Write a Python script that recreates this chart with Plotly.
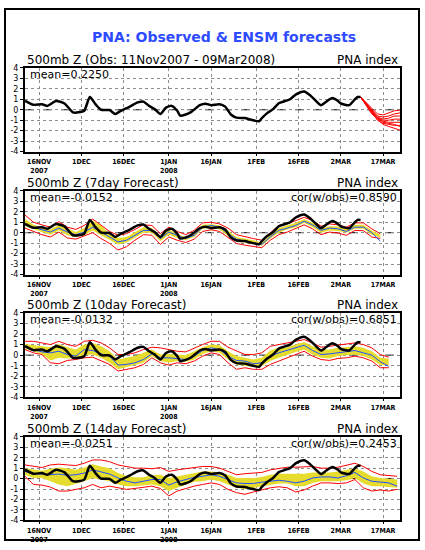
import plotly.graph_objects as go

# ---------------- data ----------------
obs_dates = ["2007-11-11","2007-11-14","2007-11-17","2007-11-19","2007-11-22","2007-11-25","2007-11-28","2007-11-30",
             "2007-12-02","2007-12-04","2007-12-06","2007-12-08","2007-12-11","2007-12-13","2007-12-15","2007-12-18",
             "2007-12-21","2007-12-23","2007-12-25","2007-12-27","2007-12-29","2007-12-31","2008-01-02","2008-01-04",
             "2008-01-05","2008-01-07","2008-01-09","2008-01-12","2008-01-14","2008-01-16","2008-01-19","2008-01-21",
             "2008-01-23","2008-01-25","2008-01-28","2008-01-30","2008-02-02","2008-02-03","2008-02-05","2008-02-07",
             "2008-02-09","2008-02-11","2008-02-13","2008-02-15","2008-02-18","2008-02-20","2008-02-22","2008-02-24",
             "2008-02-26","2008-02-28","2008-03-01","2008-03-02","2008-03-05","2008-03-07","2008-03-08","2008-03-09"]
obs_vals = [0.85,0.47,0.53,0.37,0.84,0.6,-0.25,-0.25,-0.1,1.22,0.53,0.0,-0.03,-0.4,-0.1,0.28,0.7,0.78,0.37,0.06,
            -0.4,0.2,0.37,-0.1,-0.56,-0.45,-0.2,0.44,0.58,0.44,0.53,0.3,-0.45,-0.75,-0.8,-0.94,-1.1,-0.8,-0.3,0.06,
            0.62,0.81,1.0,1.45,1.75,1.4,0.9,0.44,0.8,1.12,0.84,0.6,0.44,1.0,1.22,1.22]

member_dates = ["2008-03-09","2008-03-11","2008-03-13","2008-03-15","2008-03-17","2008-03-19","2008-03-21","2008-03-23"]
member_vals = [
    [1.22, 0.70, 0.10, -0.40, -0.50, -0.30, -0.10, -0.05],
    [1.22, 0.60, 0.00, -0.60, -0.70, -0.60, -0.40, -0.30],
    [1.22, 0.65, -0.10, -0.70, -0.90, -0.80, -0.60, -0.60],
    [1.22, 0.55, -0.20, -0.80, -1.00, -1.00, -0.90, -0.90],
    [1.22, 0.50, -0.30, -0.90, -1.10, -1.20, -1.20, -1.20],
    [1.22, 0.45, -0.35, -1.00, -1.30, -1.40, -1.50, -1.50],
    [1.22, 0.40, -0.40, -0.90, -1.40, -1.60, -1.80, -1.95],
    [1.22, 0.50, -0.25, -0.75, -1.20, -1.30, -1.40, -1.60],
]

fc_dates = ["2007-11-11","2007-11-14","2007-11-17","2007-11-20","2007-11-23","2007-11-26","2007-11-29","2007-12-02",
            "2007-12-05","2007-12-08","2007-12-11","2007-12-14","2007-12-17","2007-12-20","2007-12-23","2007-12-26",
            "2007-12-29","2008-01-01","2008-01-04","2008-01-07","2008-01-10","2008-01-13","2008-01-16","2008-01-19",
            "2008-01-22","2008-01-25","2008-01-28","2008-01-31","2008-02-03","2008-02-06","2008-02-09","2008-02-12",
            "2008-02-15","2008-02-18","2008-02-21","2008-02-24","2008-02-27","2008-03-01","2008-03-04","2008-03-07",
            "2008-03-10","2008-03-13","2008-03-16","2008-03-19","2008-03-22"]

# 7-day forecast
d7_red_up = [1.69,1.0,0.75,0.53,1.06,0.53,0.31,0.69,1.31,0.75, 0.12,-0.25,-0.09,0.31,0.75,0.69,-0.09,0.53,0.12,-0.19,
             0.22,0.94,1.0,0.84,0.44,-0.19,-0.41,-0.56,-0.72,0.0, 0.69,0.84,1.16,1.47,1.16,0.62,0.84,0.75,0.53,0.94,
             0.94,0.37,-0.1]
d7_yel_up = [1.31,0.75,0.53,0.31,0.75,0.37,0.06,0.44,1.16,0.69, -0.09,-0.5,-0.41,0.06,0.53,0.44,-0.31,0.31,-0.09,-0.41,
             0.0,0.75,0.84,0.69,0.22,-0.41,-0.56,-0.72,-0.94,-0.19, 0.44,0.69,0.94,1.31,0.94,0.44,0.62,0.59,0.37,0.75,
             0.75,0.22,-0.2]
d7_mean = [0.75,0.53,0.28,0.06,0.44,0.06,-0.19,0.06,0.53,0.06, -0.41,-0.88,-0.72,-0.25,0.22,0.22,-0.56,0.06,-0.25,-0.56,
           -0.25,0.53,0.69,0.53,-0.09,-0.62,-0.81,-0.94,-1.12,-0.41, 0.22,0.44,0.69,1.09,0.75,0.22,0.44,0.37,0.12,0.53,
           0.53,0.0,-0.8]
d7_yel_lo = [0.62,0.31,0.06,-0.19,0.22,-0.25,-0.41,-0.25,0.22,-0.25, -0.72,-1.12,-0.94,-0.5,0.0,0.0,-0.81,-0.19,-0.5,-0.72,
             -0.41,0.37,0.44,0.31,-0.31,-0.81,-0.94,-1.12,-1.25,-0.56, 0.0,0.31,0.53,0.94,0.53,0.0,0.22,0.16,0.0,0.37,
             0.37,-0.19,-0.45]
d7_red_lo = [0.44,0.12,-0.19,-0.41,0.06,-0.5,-0.62,-0.31,0.0,-0.56, -1.03,-1.66,-1.34,-0.72,-0.19,-0.25,-1.12,-0.41,-0.72,-0.94,
             -0.62,0.12,0.28,0.12,-0.5,-1.03,-1.19,-1.28,-1.44,-0.72, -0.19,0.06,0.37,0.75,0.37,-0.19,0.06,-0.03,-0.25,0.22,
             0.19,-0.41,-0.55]

# 10-day forecast
d10_red_up = [1.31,1.31,1.16,1.0,1.31,1.0,0.84,1.31,1.41,1.16, 0.69,0.06,0.06,0.22,0.53,0.75,0.69,0.53,0.37,0.31,
              0.69,1.0,1.31,1.31,0.75,0.37,0.06,0.06,0.22,0.84, 1.0,1.16,1.31,1.47,1.16,0.75,0.84,0.94,1.0,1.16,
              1.0,0.69,0.06,-0.19]
d10_yel_up = [1.06,0.94,0.84,0.75,1.06,0.75,0.53,1.0,1.16,0.84, 0.37,-0.41,-0.25,-0.09,0.22,0.53,0.06,0.12,0.06,0.0,
              0.37,0.75,1.0,0.94,0.37,-0.09,-0.25,-0.41,-0.25,0.44, 0.69,0.75,1.0,1.25,0.84,0.53,0.53,0.69,0.75,0.84,
              0.69,0.37,-0.25,-0.31]
d10_mean = [0.75,0.53,0.31,0.22,0.37,0.06,-0.09,0.53,0.44,0.12, -0.09,-0.94,-0.88,-0.72,-0.41,0.12,-0.25,-0.25,-0.31,-0.41,
            -0.09,0.44,0.69,0.53,-0.09,-0.5,-0.56,-0.81,-0.72,-0.09, 0.22,0.44,0.69,0.94,0.44,0.06,0.12,0.22,0.37,0.44,
            0.22,0.0,-0.62,-1.06]
d10_yel_lo = [0.62,0.37,0.12,-0.5,-0.25,-0.31,-0.25,0.0,0.06,-0.25, -0.72,-1.34,-1.12,-0.94,-0.72,-0.09,-0.56,-0.72,-0.56,-0.62,
              -0.41,0.12,0.37,0.22,-0.41,-0.88,-1.03,-1.12,-1.03,-0.56, -0.25,0.06,0.31,0.53,0.06,-0.25,-0.31,-0.09,0.0,0.06,
              -0.09,-0.41,-0.94,-0.94]
d10_red_lo = [0.53,0.22,0.06,-0.72,-0.81,-0.5,-0.41,-0.25,-0.19,-0.56, -0.88,-1.5,-1.34,-1.19,-0.88,-0.25,-0.72,-0.94,-0.72,-0.81,
              -0.56,-0.09,0.22,0.06,-0.72,-1.34,-1.19,-1.34,-1.34,-0.88, -0.56,-0.25,0.06,0.37,-0.09,-0.41,-0.5,-0.31,-0.25,-0.09,
              -0.25,-0.56,-1.19,-1.19]

# 14-day forecast
d14_red_up = [1.31,1.16,1.06,1.31,1.38,1.31,1.25,1.47,1.78,1.78, 1.62,1.31,1.16,1.0,1.0,0.94,1.06,0.69,0.84,0.94,
              1.06,1.16,1.16,1.0,0.69,0.37,0.47,0.53,0.59,0.84, 1.0,1.09,1.09,1.16,1.16,1.0,1.0,1.09,1.31,1.47,
              1.16,0.69,0.37,0.28,0.22]
d14_yel_up = [1.0,0.84,0.75,0.94,1.06,1.0,0.84,1.06,1.38,1.16, 1.0,0.53,0.22,0.12,0.12,0.31,0.37,0.06,0.22,0.37,
              0.53,0.69,0.69,0.59,0.37,0.06,0.06,0.06,0.16,0.37, 0.47,0.47,0.47,0.47,0.59,0.59,0.59,0.69,0.84,1.0,
              0.69,0.22,0.06,-0.03,-0.09]
d14_mean = [0.69,0.44,0.44,0.37,0.44,0.31,0.37,0.53,0.84,0.62, 0.44,0.06,-0.25,-0.41,-0.25,-0.09,-0.09,-0.62,-0.31,-0.09,
            0.12,0.22,0.37,0.22,-0.09,-0.41,-0.47,-0.47,-0.34,-0.25, -0.16,-0.25,-0.41,-0.25,0.06,0.16,0.16,0.06,0.28,0.59,
            0.06,-0.25,-0.34,-0.41,-0.72]
d14_yel_lo = [0.37,0.06,0.06,-0.25,-0.56,-0.72,-0.5,-0.25,0.06,-0.09, -0.25,-0.56,-0.72,-0.72,-0.62,-0.56,-0.72,-1.19,-0.88,-0.56,
              -0.31,-0.25,-0.09,-0.25,-0.56,-0.88,-1.03,-0.88,-0.72,-0.56, -0.47,-0.47,-0.72,-0.72,-0.41,-0.25,-0.25,-0.25,-0.16,0.06,
              -0.47,-0.72,-0.72,-0.78,-0.88]
d14_red_lo = [0.22,-0.56,-0.62,-0.81,-1.19,-1.19,-1.03,-0.88,-0.56,-0.88, -0.72,-0.88,-1.03,-0.94,-0.81,-0.72,-0.94,-1.66,-1.19,-0.94,
              -0.72,-0.56,-0.41,-0.56,-1.03,-1.34,-1.5,-1.28,-1.09,-0.88, -0.78,-0.88,-1.28,-1.09,-0.72,-0.41,-0.41,-0.47,-0.41,-0.09,
              -0.88,-1.19,-1.09,-1.19,-1.03]

panel_titles = ["500mb Z (Obs: 11Nov2007 - 09Mar2008)", "500mb Z (7day Forecast)",
                "500mb Z (10day Forecast)", "500mb Z (14day Forecast)"]
mean_texts = ["mean=0.2250", "mean=-0.0152", "mean=-0.0132", "mean=-0.0251"]
cor_texts = ["", "cor(w/obs)=0.8590", "cor(w/obs)=0.6851", "cor(w/obs)=0.2453"]
right_label = "PNA index"
main_title = "PNA: Observed & ENSM forecasts"

xtick_vals = ["2007-11-16","2007-12-01","2007-12-16","2008-01-01","2008-01-16","2008-02-01","2008-02-16","2008-03-02","2008-03-17"]
xtick_text = ["<b>16NOV</b><br><b>2007</b>","<b>1DEC</b>","<b>16DEC</b>","<b>1JAN</b><br><b>2008</b>","<b>16JAN</b>",
              "<b>1FEB</b>","<b>16FEB</b>","<b>2MAR</b>","<b>17MAR</b>"]
ytick_vals = [-4,-3,-2,-1,0,1,2,3,4]
ytick_text = ["-4","-3","-2","-1","0","1","2","3","4"]
x_range = ["2007-11-11", "2008-03-23"]

bands = [None,
         (d7_red_up, d7_yel_up, d7_mean, d7_yel_lo, d7_red_lo),
         (d10_red_up, d10_yel_up, d10_mean, d10_yel_lo, d10_red_lo),
         (d14_red_up, d14_yel_up, d14_mean, d14_yel_lo, d14_red_lo)]

# ---------------- layout geometry ----------------
W, H = 425, 550
PX_L, PX_R = 25, 400
panel_px = [(65, 150), (190, 275), (314, 400), (440, 525)]

YELLOW = "#e6dc2e"
RED = "#ff0000"
BLUE = "#2050ff"
FONT = "DejaVu Sans"

fig = go.Figure()
layout = dict(width=W, height=H, margin=dict(l=0, r=0, t=0, b=0),
              paper_bgcolor="white", plot_bgcolor="white", showlegend=False)
annotations = []
shapes = []

for i in range(4):
    sx = "" if i == 0 else str(i + 1)
    xa, ya = "x" + sx, "y" + sx
    top, bot = panel_px[i]
    layout["xaxis" + sx] = dict(
        domain=[PX_L / W, PX_R / W], anchor=ya, type="date", range=x_range,
        tickmode="array", tickvals=xtick_vals, ticktext=xtick_text,
        tickfont=dict(family="Liberation Sans Narrow, DejaVu Sans Condensed, Liberation Sans", size=7, color="black"),
        showgrid=True, gridcolor="#8c8c8c", griddash="dot", gridwidth=1,
        showline=True, mirror=True, linecolor="black", linewidth=2,
        ticks="outside", ticklen=2, tickcolor="black", zeroline=False, tickangle=0)
    layout["yaxis" + sx] = dict(
        domain=[1 - bot / H, 1 - top / H], anchor=xa, range=[-4, 4],
        tickmode="array", tickvals=ytick_vals, ticktext=ytick_text,
        tickfont=dict(family=FONT, size=8, color="black"),
        showgrid=True, gridcolor="#8c8c8c", griddash="dot", gridwidth=1,
        showline=True, mirror=True, linecolor="black", linewidth=2,
        ticks="outside", ticklen=3, tickcolor="black", zeroline=False)

    if bands[i] is not None:
        r_up, y_up, mn, y_lo, r_lo = bands[i]
        fig.add_trace(go.Scatter(x=fc_dates[:len(y_up)], y=y_up, mode="lines",
                                 line=dict(width=0, color=YELLOW), xaxis=xa, yaxis=ya, hoverinfo="skip"))
        fig.add_trace(go.Scatter(x=fc_dates[:len(y_lo)], y=y_lo, mode="lines", fill="tonexty",
                                 fillcolor=YELLOW, line=dict(width=0, color=YELLOW), xaxis=xa, yaxis=ya))
        for arr in (r_up, r_lo):
            fig.add_trace(go.Scatter(x=fc_dates[:len(arr)], y=arr, mode="lines",
                                     line=dict(width=1, color=RED), xaxis=xa, yaxis=ya))
        fig.add_trace(go.Scatter(x=fc_dates[:len(mn)], y=mn, mode="lines",
                                 line=dict(width=1, color=BLUE), xaxis=xa, yaxis=ya))
    else:
        for mv in member_vals:
            fig.add_trace(go.Scatter(x=member_dates, y=mv, mode="lines",
                                     line=dict(width=1, color=RED), xaxis=xa, yaxis=ya))

    fig.add_trace(go.Scatter(x=obs_dates, y=obs_vals, mode="lines",
                             line=dict(width=2.5, color="black", shape="spline", smoothing=0.6),
                             xaxis=xa, yaxis=ya))

    shapes.append(dict(type="line", xref=xa + " domain", x0=0, x1=1, yref=ya, y0=0, y1=0,
                       line=dict(color="black", width=1, dash="dash"), layer="below"))

    annotations.append(dict(text=panel_titles[i], xref="paper", yref="paper",
                            x=PX_L / W, y=1 - (top - 8) / H, xanchor="left", yanchor="middle",
                            showarrow=False, font=dict(family=FONT, size=12, color="black")))
    annotations.append(dict(text=right_label, xref="paper", yref="paper",
                            x=PX_R / W, y=1 - (top - 8) / H, xanchor="right", yanchor="middle",
                            showarrow=False, font=dict(family=FONT, size=12, color="black")))
    annotations.append(dict(text=mean_texts[i], xref="paper", yref="paper",
                            x=28 / W, y=1 - (top + 7) / H, xanchor="left", yanchor="middle",
                            showarrow=False, font=dict(family=FONT, size=11, color="black")))
    if cor_texts[i]:
        annotations.append(dict(text=cor_texts[i], xref="paper", yref="paper",
                                x=(PX_R - 1) / W, y=1 - (top + 7) / H, xanchor="right", yanchor="middle",
                                showarrow=False, font=dict(family=FONT, size=11, color="black")))

annotations.append(dict(text="<b>" + main_title + "</b>", xref="paper", yref="paper",
                        x=224 / W, y=1 - 34 / H, xanchor="center", yanchor="middle", showarrow=False,
                        font=dict(family=FONT, size=14, color="#2e4bff")))

shapes.append(dict(type="rect", xref="paper", yref="paper", x0=5 / W, x1=419 / W,
                   y0=1 - 545 / H, y1=1 - 5 / H, line=dict(color="black", width=2)))

layout["annotations"] = annotations
layout["shapes"] = shapes
fig.update_layout(**layout)
fig.write_html("out.html", config={"displayModeBar": False},
               post_script="document.body.style.margin='0';document.body.style.overflow='hidden';")
